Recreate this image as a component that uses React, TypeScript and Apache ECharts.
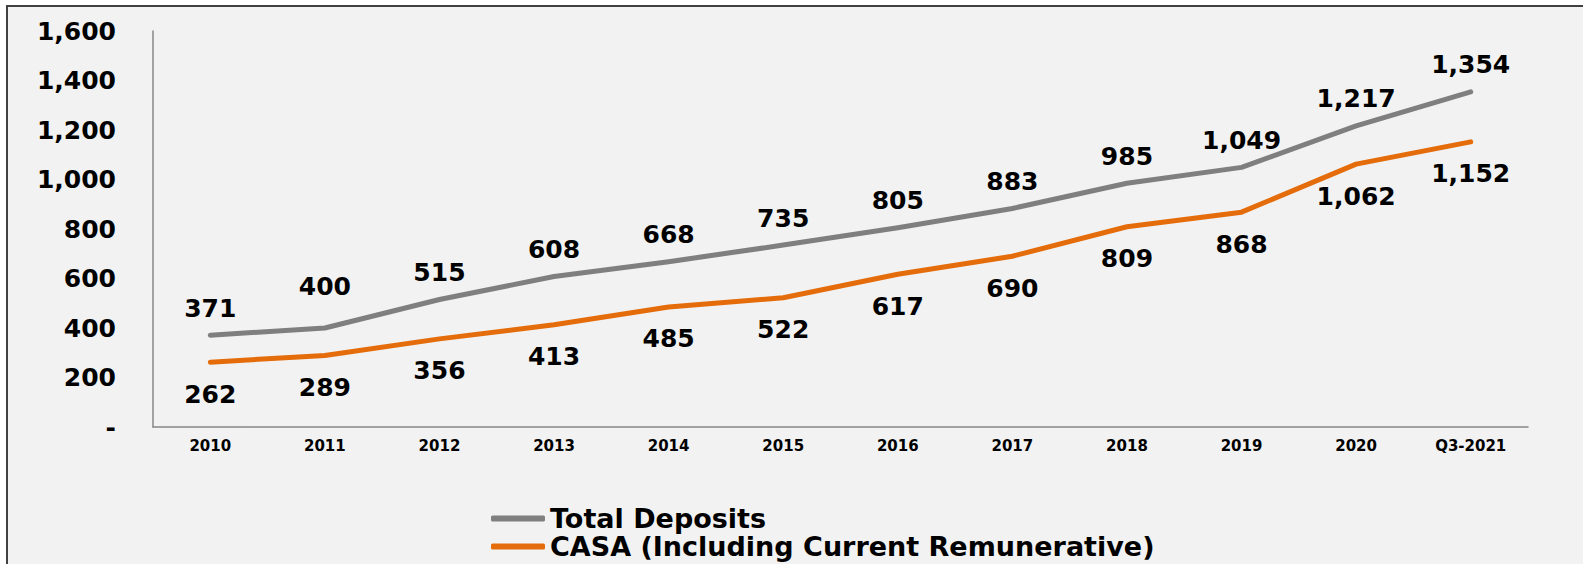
import React, { useEffect, useRef } from "react";
import * as echarts from "echarts";

const categories = ["2010", "2011", "2012", "2013", "2014", "2015", "2016", "2017", "2018", "2019", "2020", "Q3-2021"];
const totalDeposits = [371, 400, 515, 608, 668, 735, 805, 883, 985, 1049, 1217, 1354];
const casa = [262, 289, 356, 413, 485, 522, 617, 690, 809, 868, 1062, 1152];
const seriesNames = ["Total Deposits", "CASA (Including Current Remunerative)"];

const LABEL_FONT = "'DejaVu Sans', Arial, sans-serif";

export default function App() {
  const ref = useRef<HTMLDivElement>(null);
  useEffect(() => {
    if (!ref.current) return;
    const chart = echarts.init(ref.current, undefined, { renderer: "svg" });
    const fmt = (v: number) => (v === 0 ? "-" : v.toLocaleString("en-US"));
    chart.setOption({
      animation: false,
      backgroundColor: "#ffffff",
      graphic: [
        {
          type: "rect",
          z: -1,
          silent: true,
          shape: { x: 7, y: 6, width: 1700, height: 700 },
          style: { fill: "#f2f2f2", stroke: "#404040", lineWidth: 2 },
        },
      ],
      grid: { left: 153, right: 55, top: 31, bottom: 137 },
      legend: {
        orient: "vertical",
        left: 486,
        top: 500,
        height: 120,
        itemGap: 1,
        itemWidth: 54,
        itemHeight: 6,
        icon: "roundRect",
        data: seriesNames,
        textStyle: {
          fontFamily: LABEL_FONT,
          fontWeight: "bold",
          fontSize: 27,
          color: "#000",
          lineHeight: 27,
        },
      },
      xAxis: {
        type: "category",
        data: categories,
        boundaryGap: true,
        axisLine: { lineStyle: { color: "#878787", width: 1.5 } },
        axisTick: { show: false },
        axisLabel: {
          fontFamily: LABEL_FONT,
          fontWeight: "bold",
          fontSize: 15,
          color: "#000",
          margin: 11,
        },
      },
      yAxis: {
        type: "value",
        min: 0,
        max: 1600,
        interval: 200,
        splitLine: { show: false },
        axisTick: { show: false },
        axisLine: { show: true, lineStyle: { color: "#878787", width: 1.5 } },
        axisLabel: {
          fontFamily: LABEL_FONT,
          fontWeight: "bold",
          fontSize: 25,
          color: "#000",
          margin: 37,
          formatter: fmt,
        },
      },
      series: [
        {
          name: seriesNames[0],
          type: "line",
          data: totalDeposits.map((v, i) => (i === 1 ? { value: v, label: { distance: 29 } } : v)),
          symbol: "circle",
          symbolSize: 1,
          showSymbol: true,
          lineStyle: { color: "#7f7f7f", width: 5, cap: "round", join: "round" },
          itemStyle: { color: "#7f7f7f" },
          label: {
            show: true,
            position: "top",
            distance: 14,
            fontFamily: LABEL_FONT,
            fontWeight: "bold",
            fontSize: 25,
            color: "#000",
            formatter: (p: any) => fmt(p.value),
          },
        },
        {
          name: seriesNames[1],
          type: "line",
          data: casa,
          symbol: "circle",
          symbolSize: 1,
          showSymbol: true,
          lineStyle: { color: "#e46c0a", width: 5, cap: "round", join: "round" },
          itemStyle: { color: "#e46c0a" },
          label: {
            show: true,
            position: "bottom",
            distance: 19,
            fontFamily: LABEL_FONT,
            fontWeight: "bold",
            fontSize: 25,
            color: "#000",
            formatter: (p: any) => fmt(p.value),
          },
        },
      ],
    });
    return () => chart.dispose();
  }, []);
  return <div ref={ref} style={{ position: "absolute", left: 0, top: 0, width: 1583, height: 564 }} />;
}
